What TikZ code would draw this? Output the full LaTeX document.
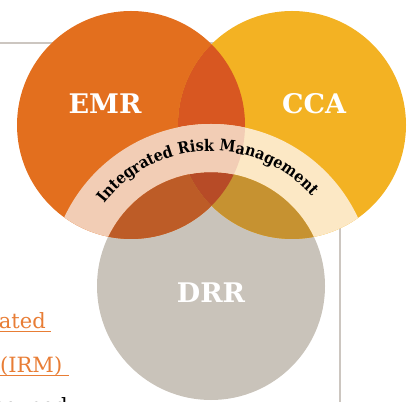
\documentclass[tikz,border=0pt]{standalone}
\usepackage{fontspec}
\setmainfont{DejaVu Serif}
\newfontfamily\arcfont{DejaVu Serif Condensed}
\usetikzlibrary{decorations.text}
\definecolor{emrorange}{HTML}{E36F1E}
\definecolor{ccayellow}{HTML}{F3B223}
\definecolor{drrgray}{HTML}{C9C3BA}
\definecolor{emrcca}{HTML}{D85721}
\definecolor{emrdrr}{HTML}{BD5C27}
\definecolor{ccadrr}{HTML}{C69231}
\definecolor{allthree}{HTML}{B74B27}
\definecolor{bandpeach}{HTML}{F2CDB5}
\definecolor{bandcream}{HTML}{FCE8C5}
\definecolor{framegray}{HTML}{CCC6C0}
\definecolor{linkorange}{HTML}{E87D35}
\begin{document}
\begin{tikzpicture}[x=1pt,y=1pt,
  setname/.style={text=white,font=\bfseries\fontsize{27}{27}\selectfont},
  pagetext/.style={font=\fontsize{21}{21}\selectfont,inner sep=0pt}]
\useasboundingbox (0,0) rectangle (411,401);
\coordinate (emr) at (131,276);
\coordinate (cca) at (292,276);
\coordinate (drr) at (211,115);
% page behind the diagram
\draw[framegray,line width=2pt] (0,358) -- (340,358) -- (340,-5);
\node[pagetext,text=linkorange,anchor=base east] (ated) at (46,73) {ated};
\node[pagetext,text=linkorange,anchor=base west] (irm) at (0,29) {(IRM)};
\node[pagetext,anchor=base east] (cut) at (68,-12) {caused};
\coordinate (atedend) at (51,70);
\coordinate (irmend) at (69,26);
\draw[linkorange,line width=1pt] (0,70) -- (atedend);
\draw[linkorange,line width=1pt] (0,26) -- (irmend);
% circles
\fill[drrgray] (drr) circle (114);
\fill[emrorange] (emr) circle (114);
\fill[ccayellow] (cca) circle (114);
\begin{scope}
  \clip (emr) circle (114);
  \fill[emrcca] (cca) circle (114);
  \fill[emrdrr] (drr) circle (114);
\end{scope}
\begin{scope}
  \clip (cca) circle (114);
  \fill[ccadrr] (drr) circle (114);
\end{scope}
\begin{scope}
  \clip (emr) circle (114);\clip (cca) circle (114);
  \fill[allthree] (drr) circle (114);
\end{scope}
% band
\begin{scope}
  \clip (cca) circle (114);
  \fill[bandcream,even odd rule] (drr) circle (162) circle (114);
\end{scope}
\begin{scope}
  \clip (emr) circle (114);
  \fill[bandpeach,even odd rule] (drr) circle (162) circle (114);
\end{scope}
\path[decorate,decoration={text along path,text align=center,
  text={|\arcfont\bfseries\fontsize{16}{16}\selectfont|Integrated Risk Management}}]
  ([shift={(167:135)}]drr) arc[start angle=167,end angle=17,radius=135];
% labels
\node[setname] (emrname) at (105,297) {EMR};
\node[setname] (ccaname) at (314,297) {CCA};
\node[setname] (drrname) at (211,108) {DRR};
\end{tikzpicture}
\end{document}
